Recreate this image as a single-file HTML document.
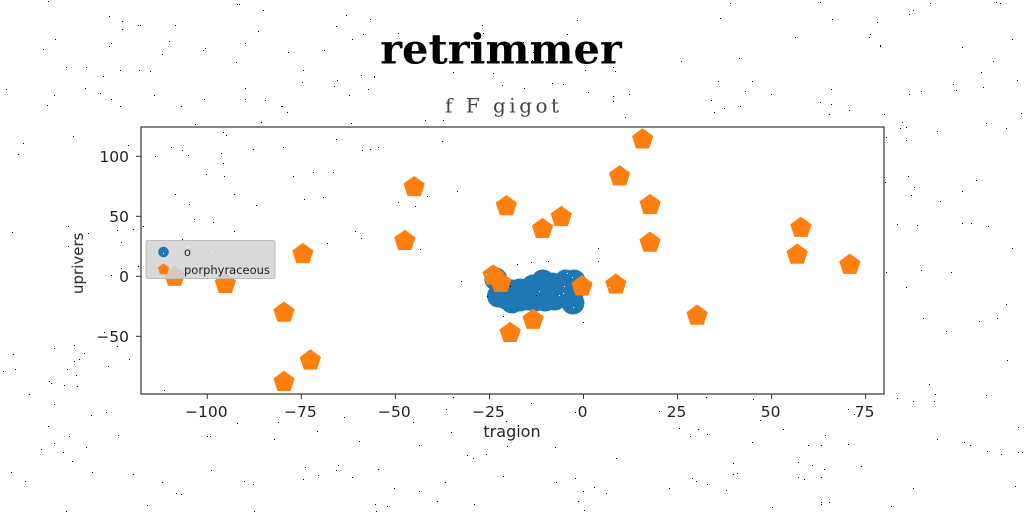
<!DOCTYPE html>
<html lang="en">
<head>
<meta charset="utf-8">
<title>retrimmer</title>
<style>
html,body{margin:0;padding:0;background:#fff}
body{width:1024px;height:512px;overflow:hidden}
svg{display:block}
text{font-family:"DejaVu Sans","Liberation Sans",sans-serif;fill:#222;filter:blur(.3px)}
.serif{font-family:"DejaVu Serif","Liberation Serif",serif}
</style>
</head>
<body>
<svg id="chart" xmlns="http://www.w3.org/2000/svg" width="1024" height="512" viewBox="0 0 1024 512"></svg>
<script>
const seriesNames = ['o', 'porphyraceous'];
const xTicks = [-100, -75, -50, -25, 0, 25, 50, 75];
const yTicks = [100, 50, 0, -50];
const blueX = [-23.3,-22.6,-20.6,-19,-16.9,-19,-16.9,-15,-13.4,-10.8,-8.4,-6.2,-4.7,-2.5,-3.1,-2.8,-5.4,-7.6,-10.2,-12.9,-14.8,-11.6,-8.9,-14.2,-6.2,-3.1];
const blueY = [-2.3,-16.4,-18.1,-21.4,-19.8,-12.3,-11.4,-11.4,-8.1,-3.9,-6.4,-7.3,-3.9,-3.9,-9.8,-22.3,-16.4,-18.9,-19.8,-19.8,-18.9,-13.1,-13.1,-14.8,-13.1,-16.4];
const orangeX = [15.7,9.6,17.7,17.7,57.8,56.8,70.8,30.2,8.6,-0.4,-5.9,-10.9,-20.5,-45,-47.5,-74.6,-95.2,-108.7,-79.6,-72.6,-79.6,-24,-22,-13.4,-19.5];
const orangeY = [114,83.3,59.4,28,40.4,18,9.6,-32.8,-6.9,-8.4,49.4,39.4,58.4,74.3,29.5,18.5,-6.4,-0.4,-30.3,-70.1,-88,0.6,-5.4,-36.3,-47.2];
const speckX = [48,237,239,263,109,122,138,140,175,122,346,370,336,258,363,55,352,169,111,109,245,43,205,203,288,324,162,236,66,86,120,139,150,303,103,361,374,337,302,334,6,85,245,368,100,54,154,349,111,204,245,265,47,120,181,281,282,287,195,261,351,
730,820,930,996,1000,913,909,720,832,877,870,869,795,880,880,1012,962,681,739,993,981,718,752,953,1017,745,831,771,909,921,956,983,711,820,831,740,724,714,849,829,884,1021,902,986,
453,531,446,659,344,575,413,506,317,451,359,419,507,555,467,486,473,616,305,338,336,378,318,303,352,503,575,445,556,394,419,583,594,606,437,578,375,387,474,376,584,
706,753,897,913,934,986,848,854,760,679,698,783,1018,690,707,825,937,964,970,752,808,821,848,987,1001,1018,1022,733,798,812,861,824,733,737,798,804,821,692,696,707,669,726,913,1015,821,821,829,772,891,
900,906,937,1006,886,906,908,976,885,914,962,911,940,897,917,962,971,988,1012,886,921,951,906,1006,923,997,979,946,1007,929,935,
73,23,18,128,12,68,88,117,133,68,121,121,111,138,104,117,54,74,13,84,79,74,129,108,67,15,3,76,49,51,64,77,29,
223,226,336,442,171,182,188,155,221,253,283,362,370,378,223,206,224,293,313,333,457,175,234,427,304,323,398,189,256,415,194,213,143,234,355,361,182,327,420,
54,91,106,48,69,118,54,63,41,86,72,11,92,133,25,162,176,181,147,66,254,211,244,253,207,210,237,278,274,164,
482,483,398,567,577,523,533,532,604,613,615,585,453,493,374,502,524,552,563,588,613,613,629,625,425,443,
517,531,548,598,598,461,510,487,536,503,583];
const speckY = [1,4,4,10,16,21,25,25,25,29,15,19,26,31,34,39,39,41,43,46,43,49,48,50,52,50,54,62,67,67,70,70,71,70,76,75,76,80,82,86,89,88,88,89,93,95,95,95,99,99,99,100,105,106,106,106,106,112,124,122,123,
3,2,3,2,3,10,14,18,19,22,34,37,37,45,46,39,47,61,58,61,72,81,81,84,80,91,89,94,94,91,90,87,100,102,104,106,108,112,110,114,114,113,122,123,
397,403,409,411,417,412,422,421,431,432,441,445,446,447,455,454,458,458,467,465,470,469,475,479,477,476,478,482,482,488,491,491,487,493,501,501,504,506,504,511,510,
397,399,398,401,401,395,409,414,420,428,429,429,427,436,434,435,439,442,445,442,445,445,444,451,454,452,452,463,462,465,466,469,474,473,477,479,477,478,481,484,488,490,488,486,502,504,502,507,506,
128,127,131,128,137,140,176,180,182,187,191,195,201,224,225,223,223,226,248,272,270,272,287,304,318,318,321,331,360,384,394,
136,143,154,145,232,226,233,230,229,246,242,268,275,266,332,346,348,345,354,353,359,361,359,366,369,369,371,375,381,383,385,386,394,
132,135,139,141,147,150,155,156,153,149,147,150,149,147,163,174,176,176,172,172,191,194,194,196,199,197,202,204,205,206,219,222,226,231,231,238,239,243,249,
404,415,412,426,436,435,443,452,449,447,461,472,472,474,481,482,493,494,505,511,511,470,481,484,436,436,423,422,439,390,
25,33,33,34,20,42,52,60,57,67,71,70,72,73,77,85,88,83,84,92,96,101,94,117,120,120,
264,262,261,248,261,281,286,296,295,316,322];
const whiteSpeckX = [486,567,572,564,539,563,559,573,609,163,188,212,253];
const whiteSpeckY = [274,273,277,286,291,293,295,307,287,253,246,252,253];

const NS = 'http://www.w3.org/2000/svg';
const svg = document.getElementById('chart');
const plot = {left: 141, right: 884, top: 127, bottom: 394};
const xScale = v => 583.5 + v * 3.762;
const yScale = v => 276.3 - v * 1.2;

function make(tag, attrs, parent) {
  const el = document.createElementNS(NS, tag);
  for (const k in attrs) el.setAttribute(k, attrs[k]);
  (parent || svg).appendChild(el);
  return el;
}
function pentagonPoints(cx, cy, r) {
  const pts = [];
  for (let i = 0; i < 5; i++) {
    const a = -Math.PI / 2 + i * 2 * Math.PI / 5;
    pts.push((cx + r * Math.cos(a)).toFixed(2) + ',' + (cy + r * Math.sin(a)).toFixed(2));
  }
  return pts.join(' ');
}

const axesBg = make('rect', {x: plot.left, y: plot.top, width: plot.right - plot.left, height: plot.bottom - plot.top, fill: '#fff'});



const title = make('text', {x: 501, y: 63.5, 'text-anchor': 'middle', 'font-size': 41.6, 'font-weight': 'bold', class: 'serif'});
title.style.fill = '#000';
title.textContent = 'retrimmer';



const subtitle = make('text', {x: 445, y: 112.5, 'font-size': 20, 'letter-spacing': 3.5, class: 'serif'});
subtitle.style.fill = '#444';
subtitle.textContent = 'f F gigot';



const blueGroup = make('g', {fill: '#1f77b4'});


blueX.forEach((v, i) => {
  const c = make('circle', {cx: xScale(v), cy: yScale(blueY[i]), r: 11.5}, blueGroup);
  
  
});

const orangeGroup = make('g', {fill: '#ff7f0e'});


orangeX.forEach((v, i) => {
  const p = make('polygon', {points: pentagonPoints(xScale(v), yScale(orangeY[i]), 11.2)}, orangeGroup);
  
  
});

const frame = make('rect', {x: plot.left, y: plot.top, width: plot.right - plot.left, height: plot.bottom - plot.top, fill: 'none', stroke: '#333', 'stroke-width': 1.2});



xTicks.forEach(t => {
  const x = xScale(t);
  const tick = make('line', {x1: x, x2: x, y1: plot.bottom, y2: plot.bottom + 5, stroke: '#333', 'stroke-width': 1});
  
  
  const label = make('text', {x: x - 1, y: 417, 'text-anchor': 'middle', 'font-size': 15.5});
  label.textContent = String(t).replace('-', '\u2212');
  
  
});
yTicks.forEach(t => {
  const y = yScale(t);
  const tick = make('line', {x1: plot.left - 5, x2: plot.left, y1: y, y2: y, stroke: '#333', 'stroke-width': 1});
  
  
  const label = make('text', {x: 129, y: y + 5.6, 'text-anchor': 'end', 'font-size': 15.5});
  label.textContent = String(t).replace('-', '\u2212');
  
  
});

const xTitle = make('text', {x: 512, y: 437, 'text-anchor': 'middle', 'font-size': 16});
xTitle.textContent = 'tragion';



const yTitle = make('text', {x: 0, y: 0, 'text-anchor': 'middle', 'font-size': 15, transform: 'translate(83,263.3) rotate(-90)'});
yTitle.textContent = 'uprivers';



const legend = make('g', {});


const legendBox = make('rect', {x: 146, y: 240.5, width: 129, height: 38, rx: 2, fill: 'rgba(212,212,212,0.88)', stroke: '#bdbdbd', 'stroke-width': 1}, legend);


const legendColors = ['#1f77b4', '#ff7f0e'];
seriesNames.forEach((name, i) => {
  const y = 252 + i * 18;
  let mark;
  if (i === 0) {
    mark = make('circle', {cx: 163.5, cy: y, r: 5.3, fill: legendColors[i]}, legend);
  } else {
    mark = make('polygon', {points: pentagonPoints(163.5, y - 0.5, 6), fill: legendColors[i]}, legend);
  }
  
  
  const label = make('text', {x: 184, y: y + 4, 'font-size': 11.5}, legend);
  label.textContent = name;
  
  
});

const specks = make('g', {fill: '#000'});


speckX.forEach((x, i) => {
  make('rect', {x: x, y: speckY[i], width: 1, height: 1}, specks);
});
const lightSpecks = make('g', {fill: '#fff'});


whiteSpeckX.forEach((x, i) => {
  make('rect', {x: x, y: whiteSpeckY[i], width: 1, height: 1}, lightSpecks);
});
</script>
</body>
</html>
